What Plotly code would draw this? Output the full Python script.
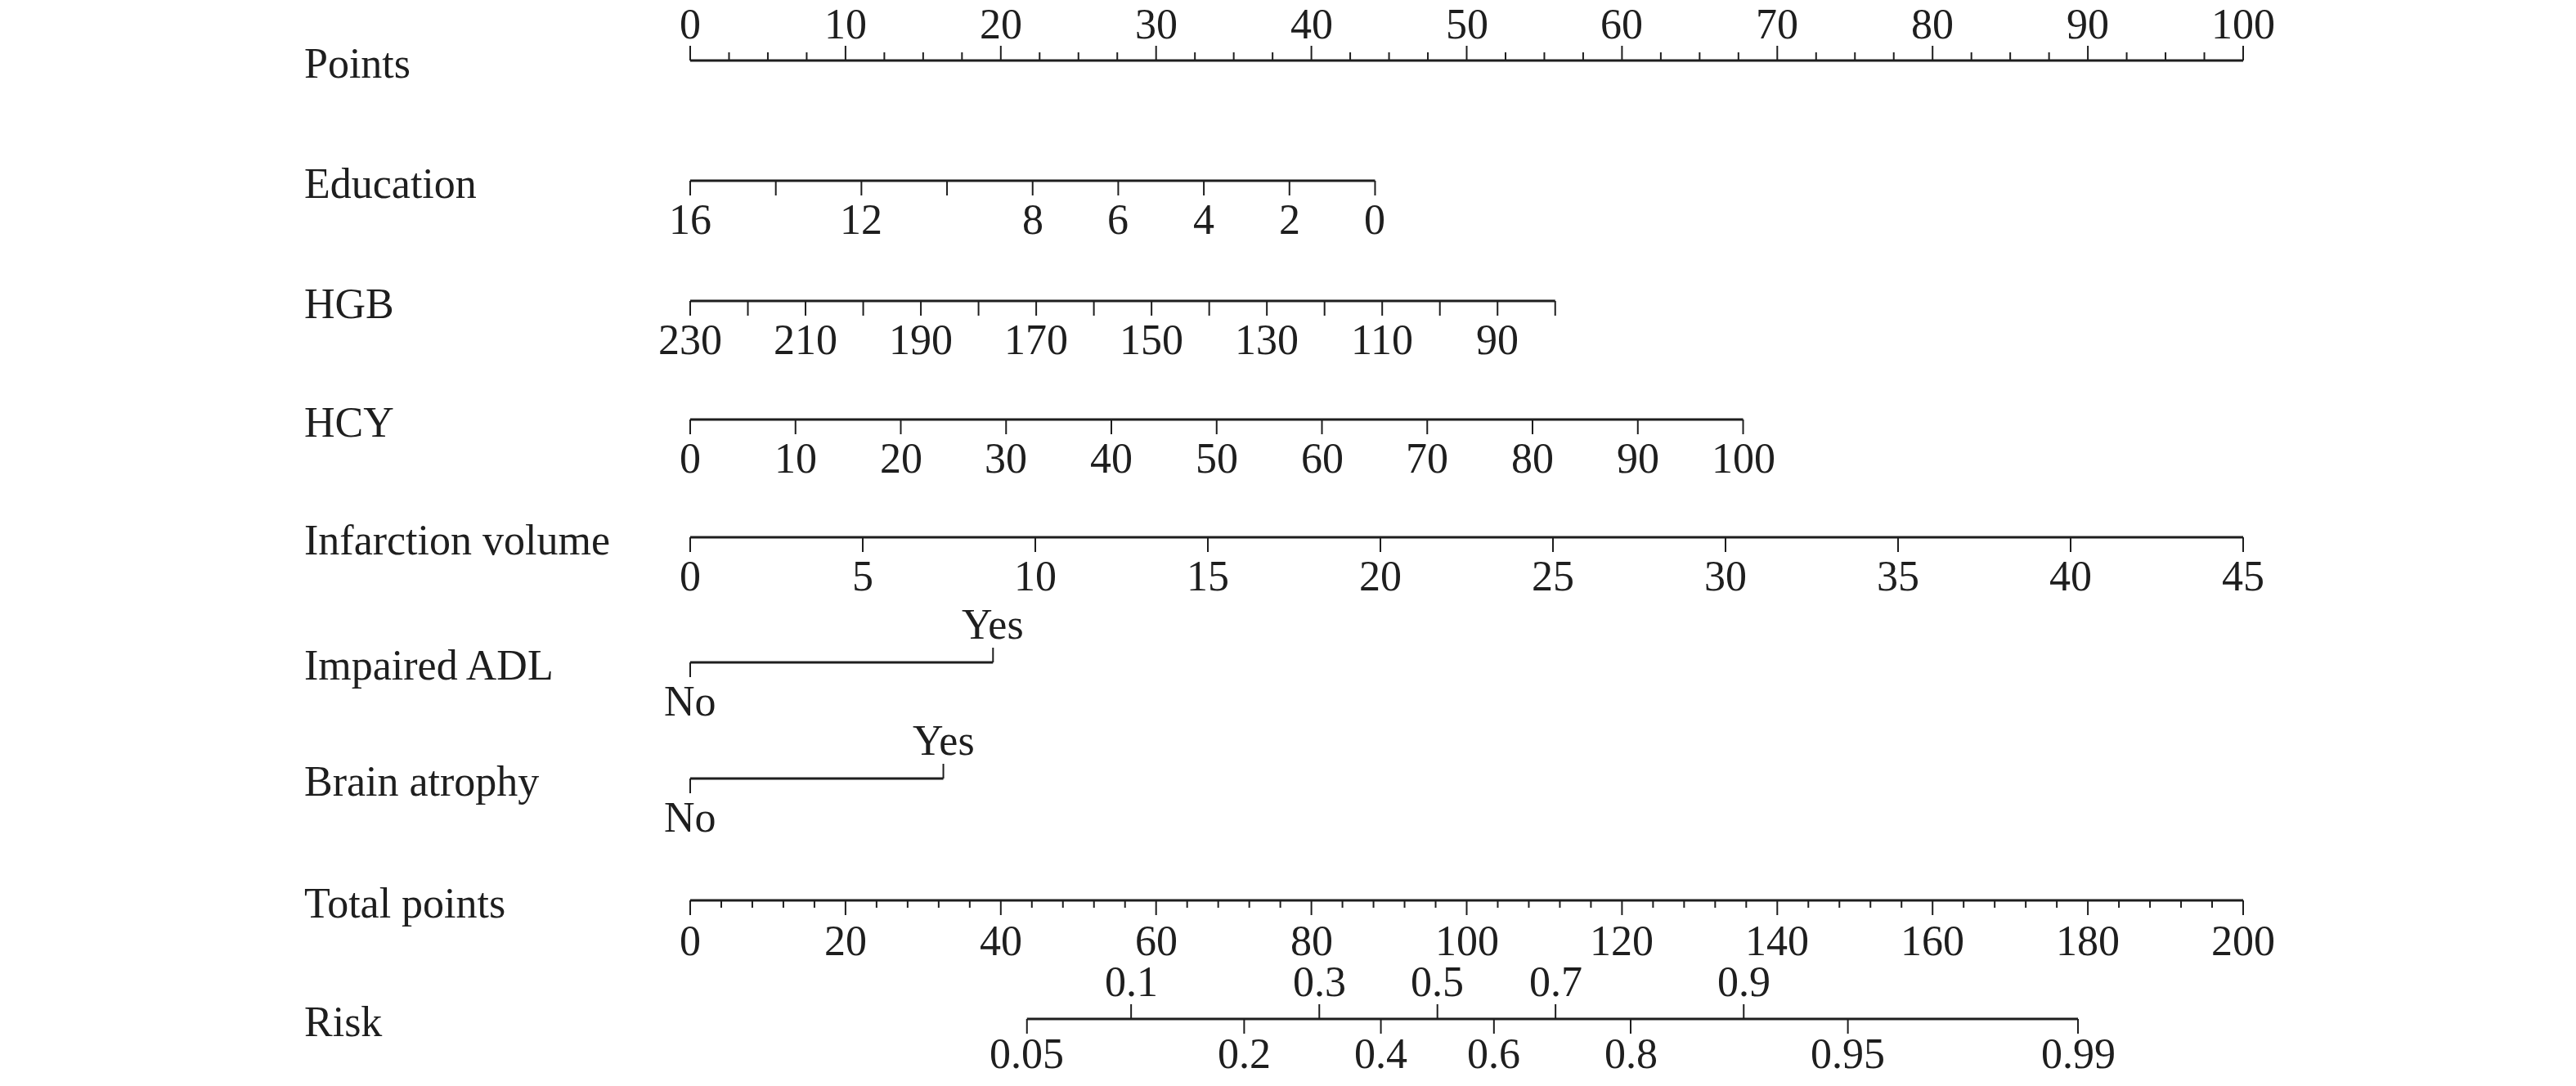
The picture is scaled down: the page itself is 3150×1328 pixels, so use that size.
import plotly.graph_objects as go
import math

# ---------------- data ----------------
points_major = [0, 10, 20, 30, 40, 50, 60, 70, 80, 90, 100]
points_minor_step = 2.5

edu_values = [16, 14, 12, 10, 8, 6, 4, 2, 0]
edu_labels = ["16", "", "12", "", "8", "6", "4", "2", "0"]
edu_pts_range = (0.0, 44.1)          # points at 16 and at 0

hgb_values = [230, 220, 210, 200, 190, 180, 170, 160, 150, 140, 130, 120, 110, 100, 90, 80]
hgb_labels = ["230", "", "210", "", "190", "", "170", "", "150", "", "130", "", "110", "", "90", ""]
hgb_pts_range = (0.0, 55.7)          # points at 230 and at 80

hcy_values = [0, 10, 20, 30, 40, 50, 60, 70, 80, 90, 100]
hcy_pts_range = (0.0, 67.8)

inf_values = [0, 5, 10, 15, 20, 25, 30, 35, 40, 45]
inf_pts_range = (0.0, 100.0)

adl_labels = ["No", "Yes"]
adl_points = [0.0, 19.5]

atrophy_labels = ["No", "Yes"]
atrophy_points = [0.0, 16.3]

total_major = [0, 20, 40, 60, 80, 100, 120, 140, 160, 180, 200]
total_minor_step = 4

risk_upper = [0.1, 0.3, 0.5, 0.7, 0.9]
risk_lower = [0.05, 0.2, 0.4, 0.6, 0.8, 0.95, 0.99]
risk_intercept = -5.36
risk_slope = 0.0557   # per total point

row_names = ["Points", "Education", "HGB", "HCY", "Infarction volume",
             "Impaired ADL", "Brain atrophy", "Total points", "Risk"]

# ---------------- layout constants (pixels) ----------------
W, H = 3150, 1328
PX0, PX100 = 844, 2743              # pixel x of 0 and 100 points
row_y = {"Points": 74, "Education": 221, "HGB": 368, "HCY": 513,
         "Infarction volume": 657, "Impaired ADL": 810, "Brain atrophy": 952,
         "Total points": 1101, "Risk": 1246}
LABEL_X = 370
FONT = dict(family="Liberation Serif, Times New Roman, serif", size=52, color="#1e1e1e")
LINE_COLOR = "#1e1e1e"
MAJ, MIN = 18, 10
GAP = 47

ppx = (PX100 - PX0) / 100.0
xr = [(-PX0) / ppx, (W - PX0) / ppx]
yr = [H, 0]


def lin(v, vals, pr):
    v0, v1 = vals[0], vals[-1]
    return pr[0] + (v - v0) / (v1 - v0) * (pr[1] - pr[0])


def risk_to_total(p):
    return (math.log(p / (1 - p)) - risk_intercept) / risk_slope


fig = go.Figure()
annotations = []


def seg_trace(xs, ys, width):
    fig.add_trace(go.Scatter(x=xs, y=ys, mode="lines",
                             line=dict(color=LINE_COLOR, width=width),
                             hoverinfo="skip", showlegend=False))


def axis(xmin, xmax, y):
    seg_trace([xmin, xmax], [y, y], 3)


def ticks(xs, y, length, direction):
    tx, ty = [], []
    for x in xs:
        tx += [x, x, None]
        ty += [y, y + direction * length, None]
    seg_trace(tx, ty, 2)


def label(x, y, text, anchor="center"):
    annotations.append(dict(x=x, y=y, xref="x", yref="y", text=text, showarrow=False,
                            xanchor=anchor, yanchor="middle", font=FONT))


# row titles
for name in row_names:
    annotations.append(dict(x=LABEL_X / W, y=row_y[name] + 3, xref="paper", yref="y",
                            text=name, showarrow=False, xanchor="left", yanchor="middle",
                            font=FONT))

# Points
y = row_y["Points"]
axis(0, 100, y)
n_minor = int(100 / points_minor_step)
minor = [i * points_minor_step for i in range(n_minor + 1)]
ticks([m for m in minor if m not in points_major], y, MIN, -1)
ticks(points_major, y, MAJ, -1)
for v in points_major:
    label(v, y - GAP + 2, str(v))

# Education
y = row_y["Education"]
xs = [lin(v, edu_values, edu_pts_range) for v in edu_values]
axis(min(xs), max(xs), y)
ticks(xs, y, MAJ, 1)
for x, t in zip(xs, edu_labels):
    if t:
        label(x, y + GAP, t)

# HGB
y = row_y["HGB"]
xs = [lin(v, hgb_values, hgb_pts_range) for v in hgb_values]
axis(min(xs), max(xs), y)
ticks(xs, y, MAJ, 1)
for x, t in zip(xs, hgb_labels):
    if t:
        label(x, y + GAP, t)

# HCY
y = row_y["HCY"]
xs = [lin(v, hcy_values, hcy_pts_range) for v in hcy_values]
axis(min(xs), max(xs), y)
ticks(xs, y, MAJ, 1)
for x, v in zip(xs, hcy_values):
    label(x, y + GAP, str(v))

# Infarction volume
y = row_y["Infarction volume"]
xs = [lin(v, inf_values, inf_pts_range) for v in inf_values]
axis(min(xs), max(xs), y)
ticks(xs, y, MAJ, 1)
for x, v in zip(xs, inf_values):
    label(x, y + GAP, str(v))

# binary rows
for name, labs, pts in [("Impaired ADL", adl_labels, adl_points),
                        ("Brain atrophy", atrophy_labels, atrophy_points)]:
    y = row_y[name]
    axis(pts[0], pts[1], y)
    ticks([pts[0]], y, MAJ, 1)
    ticks([pts[1]], y, MAJ, -1)
    label(pts[0], y + GAP, labs[0])
    label(pts[1], y - GAP, labs[1])

# Total points
y = row_y["Total points"]
axis(0, 100, y)
minor = [i * total_minor_step / 2 for i in range(int(200 / total_minor_step) + 1)]
major_x = [v / 2 for v in total_major]
ticks([m for m in minor if m not in major_x], y, MIN - 1, 1)
ticks(major_x, y, MAJ, 1)
for v in total_major:
    label(v / 2, y + GAP + 2, str(v))

# Risk
y = row_y["Risk"]
allr = sorted(risk_upper + risk_lower)
axis(risk_to_total(allr[0]) / 2, risk_to_total(allr[-1]) / 2, y)
ux = [risk_to_total(p) / 2 for p in risk_upper]
lx = [risk_to_total(p) / 2 for p in risk_lower]
ticks(ux, y, MAJ, -1)
ticks(lx, y, MAJ, 1)
for x, p in zip(ux, risk_upper):
    label(x, y - GAP + 1, f"{p:g}")
for x, p in zip(lx, risk_lower):
    label(x, y + GAP - 5, f"{p:g}")

fig.update_layout(
    width=W, height=H,
    margin=dict(l=0, r=0, t=0, b=0),
    paper_bgcolor="white", plot_bgcolor="white",
    xaxis=dict(range=xr, visible=False, fixedrange=True),
    yaxis=dict(range=yr, visible=False, fixedrange=True),
    annotations=annotations,
    showlegend=False,
)

fig.write_html("out.html",
               config={"displayModeBar": False, "staticPlot": True},
               post_script="document.body.style.margin='0';document.body.style.padding='0';")
